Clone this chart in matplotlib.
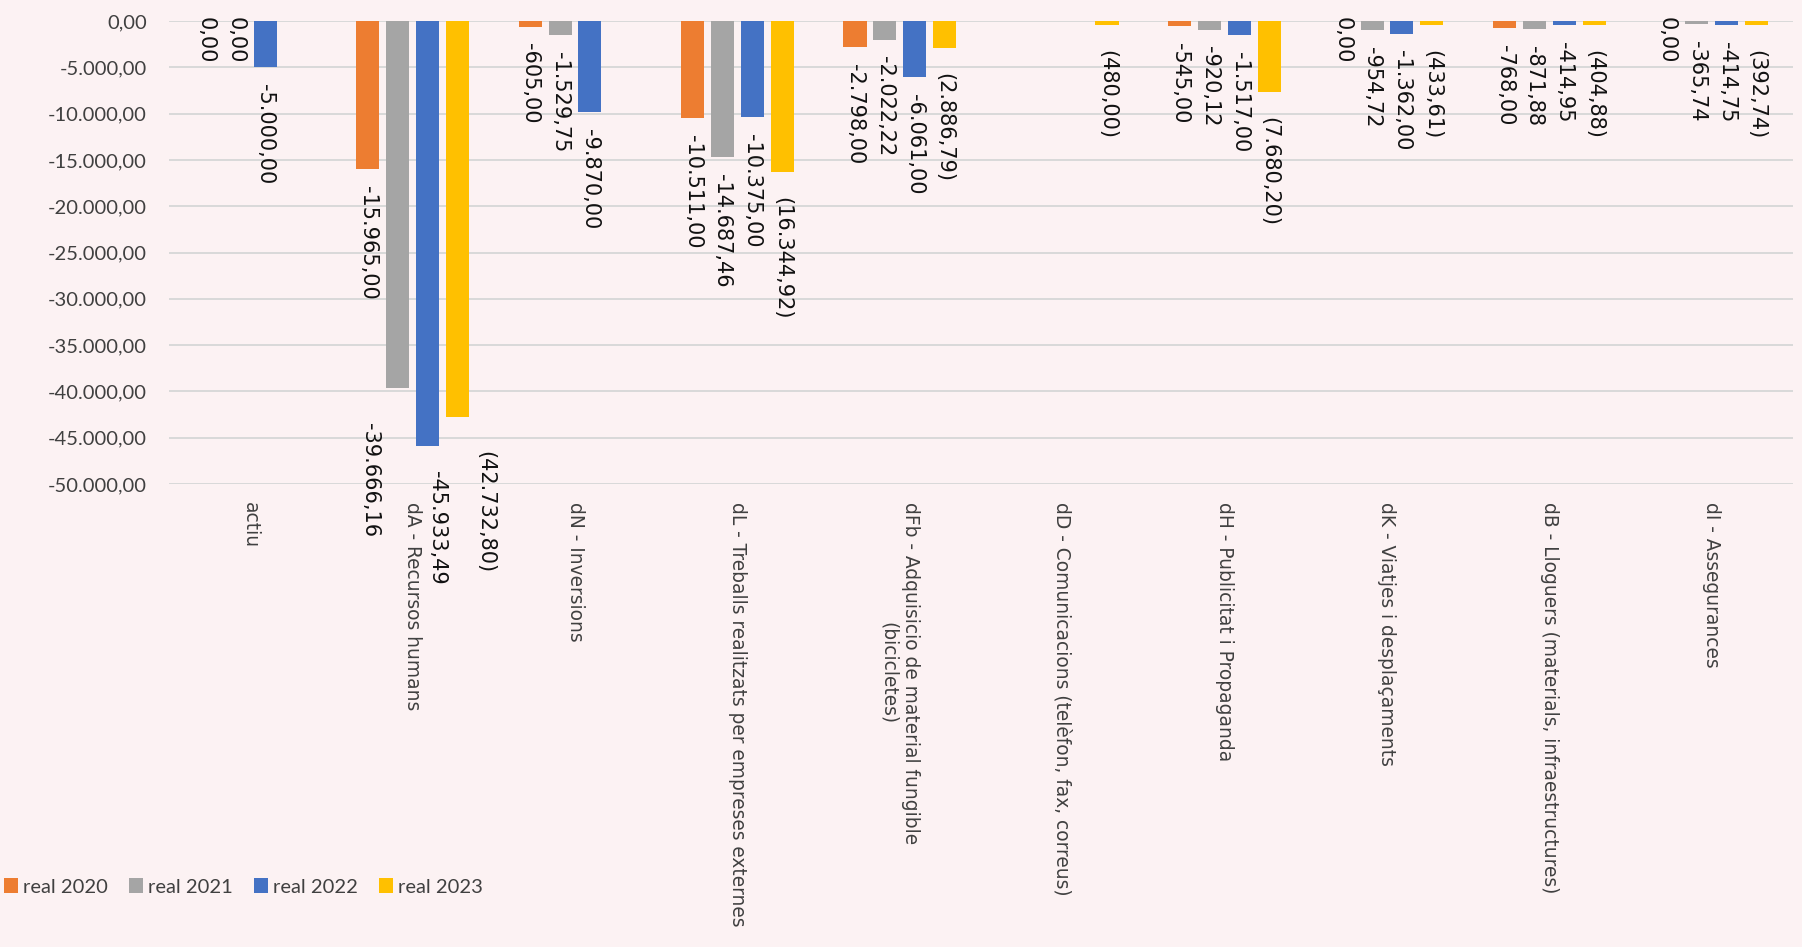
import numpy as np
import matplotlib.pyplot as plt

# categories (eix X)
categories = [
    'actiu',
    'dA - Recursos humans',
    'dN - Inversions',
    'dL - Treballs realitzats per empreses externes',
    'dFb - Adquisicio de material fungible\n(bicicletes)',
    'dD - Comunicacions (telèfon, fax, correus)',
    'dH - Publicitat i Propaganda',
    'dK - Viatjes i desplaçaments',
    'dB - Lloguers (materials, infraestructures)',
    'dI - Assegurances',
]

nan = np.nan
real_2020 = [0.00, -15965.00, -605.00, -10511.00, -2798.00, nan, -545.00, 0.00, -768.00, 0.00]
real_2021 = [0.00, -39666.16, -1529.75, -14687.46, -2022.22, nan, -920.12, -954.72, -871.88, -365.74]
real_2022 = [-5000.00, -45933.49, -9870.00, -10375.00, -6061.00, nan, -1517.00, -1362.00, -414.95, -414.75]
real_2023 = [nan, -42732.80, nan, -16344.92, -2886.79, -480.00, -7680.20, -433.61, -404.88, -392.74]

series = ['real 2020', 'real 2021', 'real 2022', 'real 2023']
colors = ['#ED7D31', '#A5A5A5', '#4472C4', '#FFC000']
yticks = np.arange(-50000, 1, 5000)

bg = '#FCF2F3'

# etiquetes desplaçades a mà (serie, categoria) -> (dx, dy) en punts
moved = {(1, 1): (-20, -25), (2, 1): (7, -18), (3, 1): (20, -24.5)}


def fmt(v):
    # format català: 1.234,56
    s = f'{v:,.2f}'
    return s.replace(',', 'X').replace('.', ',').replace('X', '.')


def fmt_paren(v):
    return '(' + fmt(abs(v)) + ')'


fig = plt.figure(figsize=(18.02, 9.47), dpi=100, facecolor=bg)
ax = fig.add_axes([0.0938, 0.4889, 0.9012, 0.4889])
ax.set_facecolor(bg)

x = np.arange(len(categories))
step = 0.184
width = 0.142
data = [real_2020, real_2021, real_2022, real_2023]

for i, vals in enumerate(data):
    vals = np.array(vals)
    xs = x + (i - 1.5) * step
    ax.bar(xs, vals, width, color=colors[i], label=series[i], zorder=3)
    for j, (xx, v) in enumerate(zip(xs, vals)):
        if np.isnan(v):
            continue
        txt = fmt_paren(v) if i == 3 else fmt(v)
        dx = 0
        if v == 0:
            dy = 3
        elif i == 3:
            dy = -18
        else:
            dy = -12
        if (i, j) in moved:
            dx, dy = moved[(i, j)]
        ax.annotate(txt, (xx, v), xytext=(dx, dy), textcoords='offset points',
                    rotation=270, ha='center', va='top', fontsize=15,
                    family='DejaVu Sans', color='#111111', zorder=4)

ax.set_xlim(-0.5, len(categories) - 0.5)
ax.set_ylim(-50000, 0)
ax.set_yticks(yticks)
ax.set_yticklabels([fmt(t) for t in yticks], family='Lato', fontsize=14.5, color='#404040')
ax.set_xticks(x)
ax.set_xticklabels(categories, rotation=270, ha='center', va='top', multialignment='center',
                   family='DejaVu Sans', fontsize=13.4, color='#404040')
ax.tick_params(axis='y', length=0, pad=16)
ax.tick_params(axis='x', length=0, pad=13)
ax.grid(axis='y', color='#D9D9D9', linewidth=1.4, zorder=0)
ax.set_axisbelow(True)
for s in ax.spines.values():
    s.set_visible(False)

leg = fig.legend(loc='center left', bbox_to_anchor=(0.0, 1 - 887 / 947), ncol=4, frameon=False,
                 handlelength=0.7, handleheight=0.7, handletextpad=0.25, columnspacing=1.05,
                 prop={'family': 'Lato', 'size': 14.5}, borderaxespad=0, borderpad=0.2)
for t in leg.get_texts():
    t.set_color('#404040')

plt.savefig('out.png', dpi=100, facecolor=bg)
